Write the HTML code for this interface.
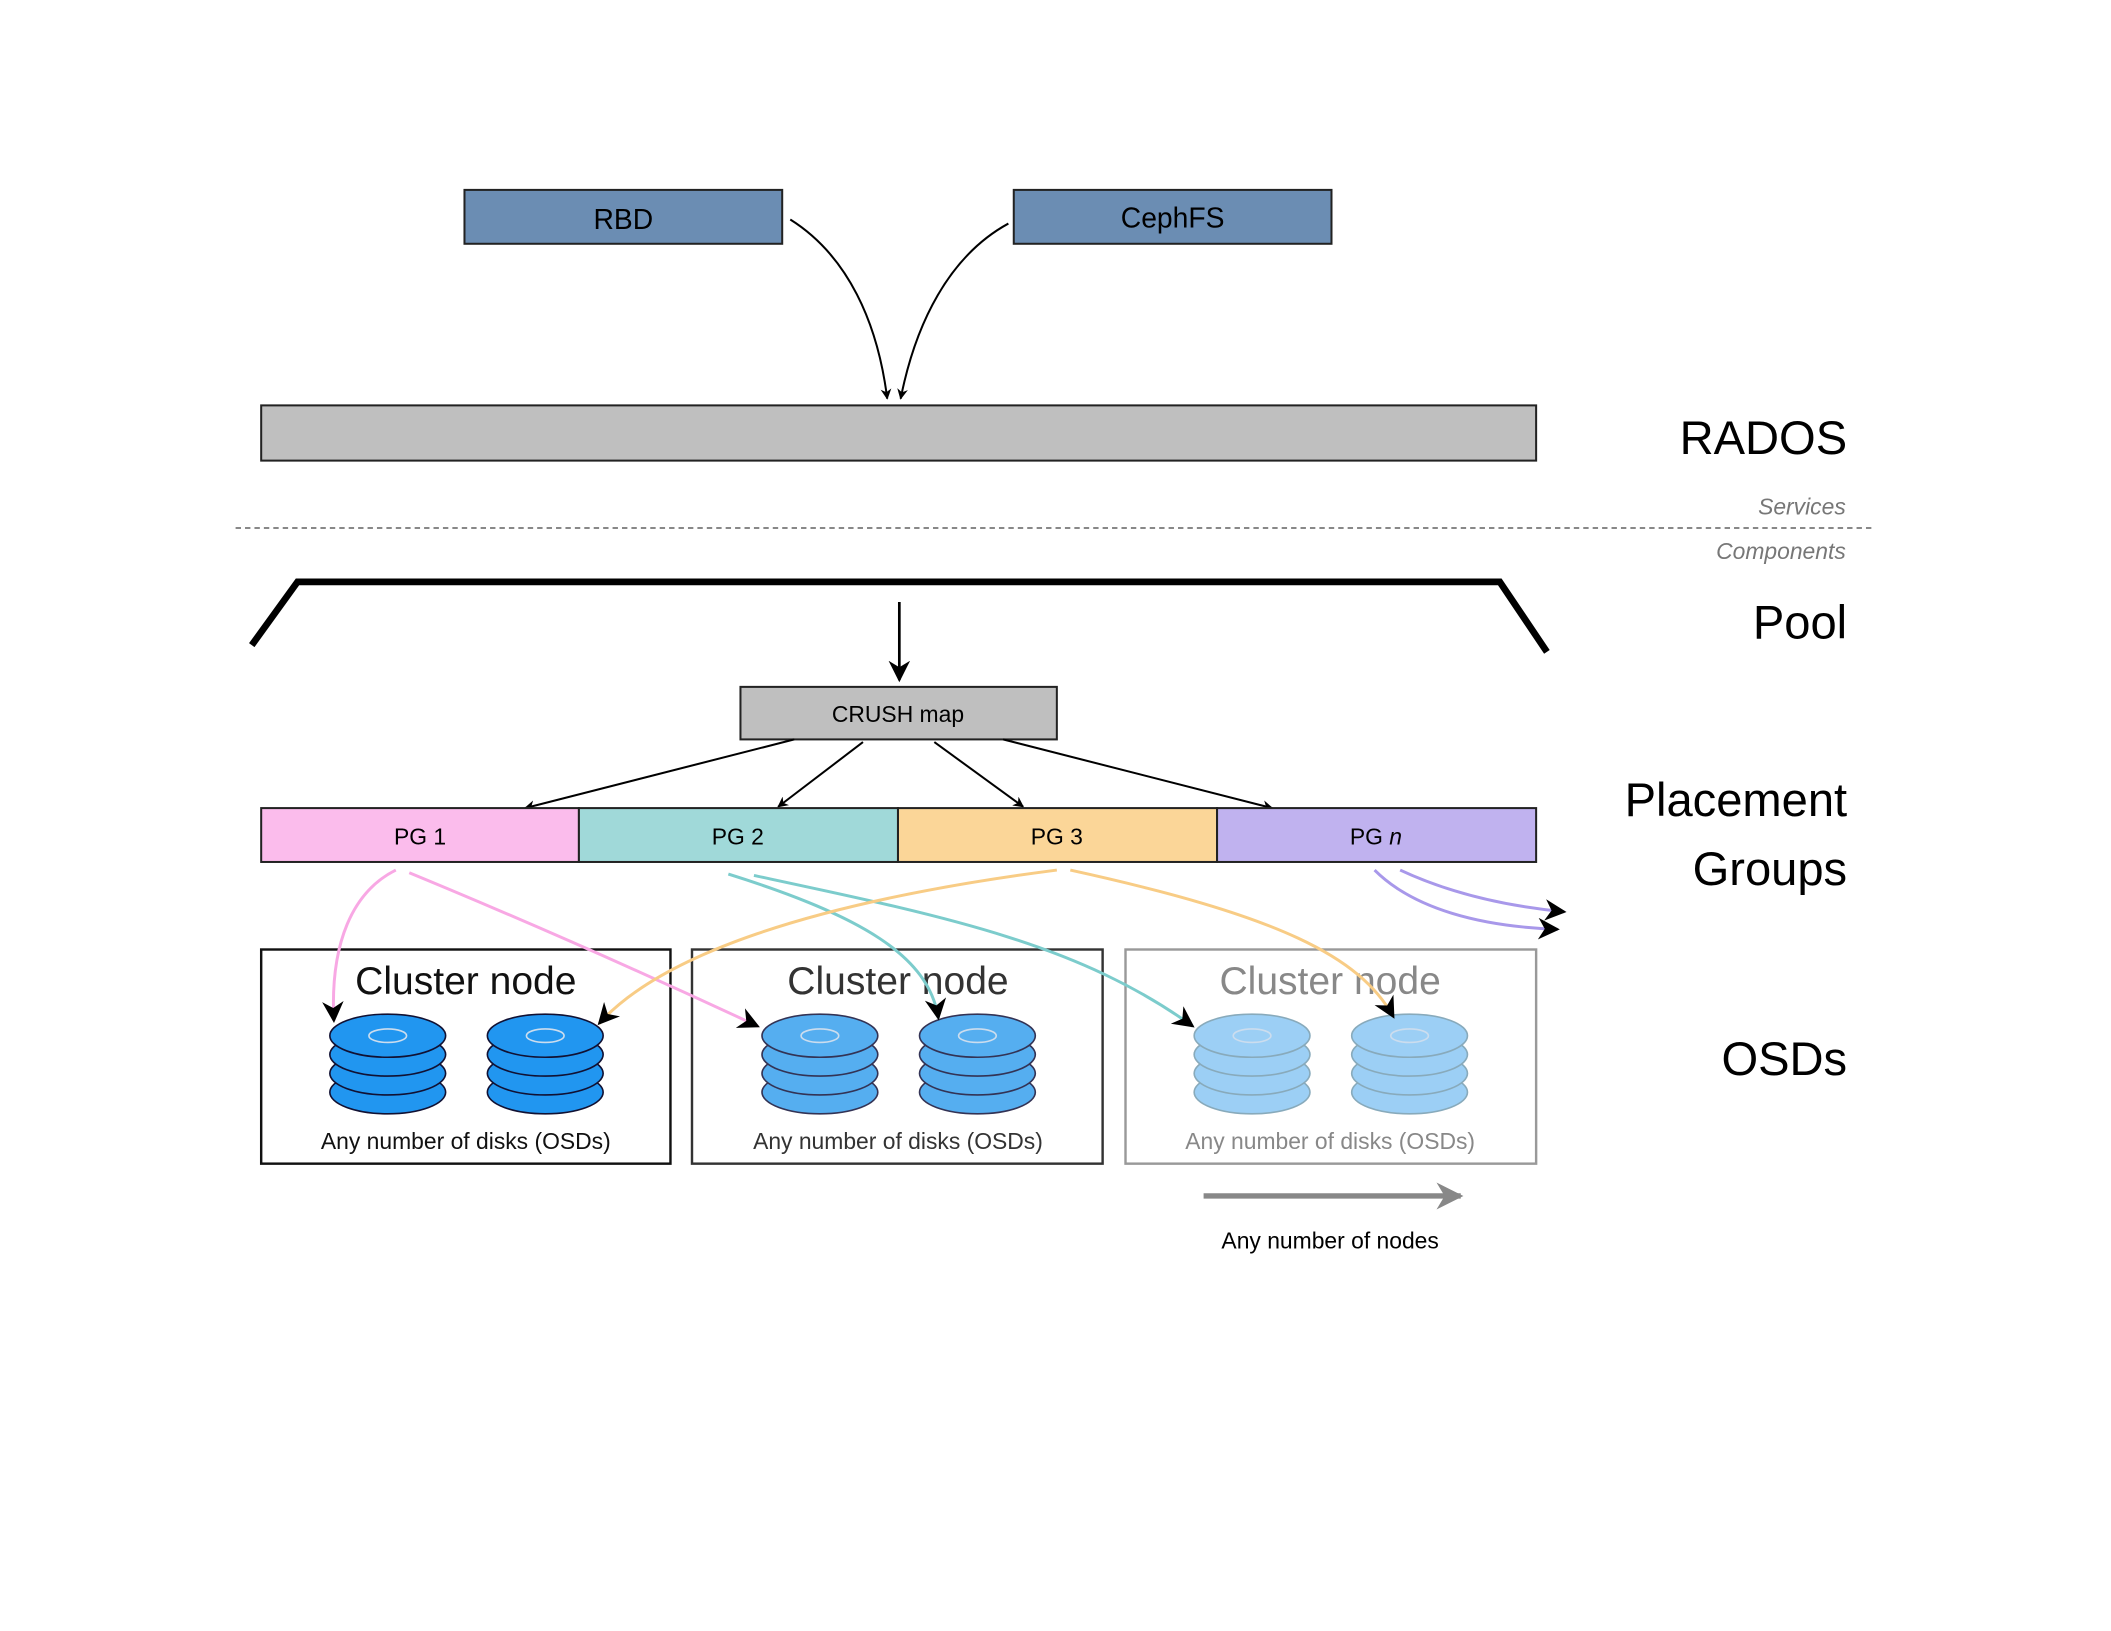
<!DOCTYPE html>
<html><head><meta charset="utf-8"><style>
html,body{margin:0;padding:0;background:#fff;}
svg{display:block;}
text{font-family:"Liberation Sans",sans-serif;}
</style></head><body>
<svg width="2111" height="1631" viewBox="0 0 1568 1211" preserveAspectRatio="none" xmlns="http://www.w3.org/2000/svg">
<defs>
<marker id="a" viewBox="0 0 10 10" refX="9" refY="5" markerWidth="8" markerHeight="8" markerUnits="userSpaceOnUse" orient="auto"><path d="M0,0 L10,5 L0,10 L3,5 z" fill="#000"/></marker>
<marker id="b" viewBox="0 0 10 10" refX="9" refY="5" markerWidth="16" markerHeight="16" markerUnits="userSpaceOnUse" orient="auto"><path d="M0,0 L10,5 L0,10 L3,5 z" fill="#000"/></marker>
<marker id="g" viewBox="0 0 10 10" refX="9" refY="5" markerWidth="20" markerHeight="20" markerUnits="userSpaceOnUse" orient="auto"><path d="M0,0 L10,5 L0,10 L3,5 z" fill="#888"/></marker>
</defs>
<rect width="1568" height="1211" fill="#fff"/>
<rect x="345" y="141" width="236" height="40" fill="#6b8db3" stroke="#222" stroke-width="1.5"/>
<text x="463" y="170" font-size="21" text-anchor="middle">RBD</text>
<rect x="753" y="141" width="236" height="40" fill="#6b8db3" stroke="#222" stroke-width="1.5"/>
<text x="871" y="169" font-size="21" text-anchor="middle">CephFS</text>
<path d="M587,163 C630,190 652,240 659,296" fill="none" stroke="#000" stroke-width="1.5" marker-end="url(#a)"/>
<path d="M749,166 C705,190 680,240 669,296" fill="none" stroke="#000" stroke-width="1.5" marker-end="url(#a)"/>
<rect x="194" y="301" width="947" height="41" fill="#bfbfbf" stroke="#222" stroke-width="1.5"/>
<text x="1372" y="337" font-size="35" text-anchor="end">RADOS</text>
<text x="1371" y="382" font-size="17" font-style="italic" fill="#777" text-anchor="end">Services</text>
<line x1="175" y1="392" x2="1393" y2="392" stroke="#888" stroke-width="1.5" stroke-dasharray="4,3"/>
<text x="1371" y="415" font-size="17" font-style="italic" fill="#777" text-anchor="end">Components</text>
<polyline points="187,479 221,432 1114,432 1149,484" fill="none" stroke="#000" stroke-width="5"/>
<text x="1372" y="474" font-size="35" text-anchor="end">Pool</text>
<line x1="668" y1="447" x2="668" y2="505" stroke="#000" stroke-width="2" marker-end="url(#b)"/>
<rect x="550" y="510" width="235" height="39" fill="#bfbfbf" stroke="#222" stroke-width="1.5"/>
<text x="667" y="536" font-size="17" text-anchor="middle">CRUSH map</text>
<g stroke="#000" stroke-width="1.5" marker-end="url(#a)">
<line x1="590" y1="549" x2="390" y2="600"/>
<line x1="641" y1="551" x2="578" y2="599"/>
<line x1="694" y1="551" x2="760" y2="599"/>
<line x1="745" y1="549" x2="945" y2="600"/>
</g>
<rect x="194" y="600" width="236" height="40" fill="#fbbcec" stroke="#222" stroke-width="1.5"/>
<rect x="430" y="600" width="237" height="40" fill="#a0d9d9" stroke="#222" stroke-width="1.5"/>
<rect x="667" y="600" width="237" height="40" fill="#fbd698" stroke="#222" stroke-width="1.5"/>
<rect x="904" y="600" width="237" height="40" fill="#c0b2ef" stroke="#222" stroke-width="1.5"/>
<text x="312" y="627" font-size="17" text-anchor="middle">PG 1</text>
<text x="548" y="627" font-size="17" text-anchor="middle">PG 2</text>
<text x="785" y="627" font-size="17" text-anchor="middle">PG 3</text>
<text x="1022" y="627" font-size="17" text-anchor="middle">PG <tspan font-style="italic">n</tspan></text>
<text x="1372" y="606" font-size="35" text-anchor="end">Placement</text>
<text x="1372" y="657" font-size="35" text-anchor="end">Groups</text>
<text x="1372" y="798" font-size="35" text-anchor="end">OSDs</text>
<rect x="194" y="705" width="304" height="159" fill="#fff" stroke="#111" stroke-width="1.8"/>
<rect x="514" y="705" width="305" height="159" fill="#fff" stroke="#333" stroke-width="1.8"/>
<rect x="836" y="705" width="305" height="159" fill="#fff" stroke="#999" stroke-width="1.8"/>
<text x="346" y="738" font-size="29" text-anchor="middle" fill="#111">Cluster node</text>
<text x="667" y="738" font-size="29" text-anchor="middle" fill="#333">Cluster node</text>
<text x="988" y="738" font-size="29" text-anchor="middle" fill="#888">Cluster node</text>
<text x="346" y="853" font-size="17" text-anchor="middle" fill="#111">Any number of disks (OSDs)</text>
<text x="667" y="853" font-size="17" text-anchor="middle" fill="#333">Any number of disks (OSDs)</text>
<text x="988" y="853" font-size="17" text-anchor="middle" fill="#888">Any number of disks (OSDs)</text>
<g fill="#2196f0" stroke="#113" stroke-width="1.2">
<ellipse cx="288" cy="811" rx="43" ry="16"/><ellipse cx="288" cy="797" rx="43" ry="16"/><ellipse cx="288" cy="783" rx="43" ry="16"/><ellipse cx="288" cy="769" rx="43" ry="16"/>
<ellipse cx="405" cy="811" rx="43" ry="16"/><ellipse cx="405" cy="797" rx="43" ry="16"/><ellipse cx="405" cy="783" rx="43" ry="16"/><ellipse cx="405" cy="769" rx="43" ry="16"/>
</g>
<g fill="#55aef0" stroke="#335" stroke-width="1.2">
<ellipse cx="609" cy="811" rx="43" ry="16"/><ellipse cx="609" cy="797" rx="43" ry="16"/><ellipse cx="609" cy="783" rx="43" ry="16"/><ellipse cx="609" cy="769" rx="43" ry="16"/>
<ellipse cx="726" cy="811" rx="43" ry="16"/><ellipse cx="726" cy="797" rx="43" ry="16"/><ellipse cx="726" cy="783" rx="43" ry="16"/><ellipse cx="726" cy="769" rx="43" ry="16"/>
</g>
<g fill="#9ccff5" stroke="#8ab" stroke-width="1.2">
<ellipse cx="930" cy="811" rx="43" ry="16"/><ellipse cx="930" cy="797" rx="43" ry="16"/><ellipse cx="930" cy="783" rx="43" ry="16"/><ellipse cx="930" cy="769" rx="43" ry="16"/>
<ellipse cx="1047" cy="811" rx="43" ry="16"/><ellipse cx="1047" cy="797" rx="43" ry="16"/><ellipse cx="1047" cy="783" rx="43" ry="16"/><ellipse cx="1047" cy="769" rx="43" ry="16"/>
</g>
<g fill="none" stroke="#cde" stroke-width="1.2">
<ellipse cx="288" cy="769" rx="14" ry="5"/><ellipse cx="405" cy="769" rx="14" ry="5"/><ellipse cx="609" cy="769" rx="14" ry="5"/><ellipse cx="726" cy="769" rx="14" ry="5"/><ellipse cx="930" cy="769" rx="14" ry="5"/><ellipse cx="1047" cy="769" rx="14" ry="5"/>
</g>
<g fill="none" stroke-width="2.2" marker-end="url(#b)">
<path d="M294,646 C262,662 245,700 248,758" stroke="#f8a8e4"/>
<path d="M304,648 Q430,700 563,762" stroke="#f8a8e4"/>
<path d="M541,649 C640,680 690,710 697,756" stroke="#7ccccc"/>
<path d="M560,650 C700,680 800,700 886,762" stroke="#7ccccc"/>
<path d="M785,646 C600,670 490,710 445,760" stroke="#f8cc85"/>
<path d="M795,646 C950,680 1010,710 1035,755" stroke="#f8cc85"/>
<path d="M1021,646 C1050,675 1100,688 1157,690" stroke="#a898ea"/>
<path d="M1040,646 C1070,660 1110,672 1162,677" stroke="#a898ea"/>
</g>
<line x1="894" y1="888" x2="1085" y2="888" stroke="#888" stroke-width="4" marker-end="url(#g)"/>
<text x="988" y="927" font-size="17" text-anchor="middle">Any number of nodes</text>
</svg>
</body></html>
